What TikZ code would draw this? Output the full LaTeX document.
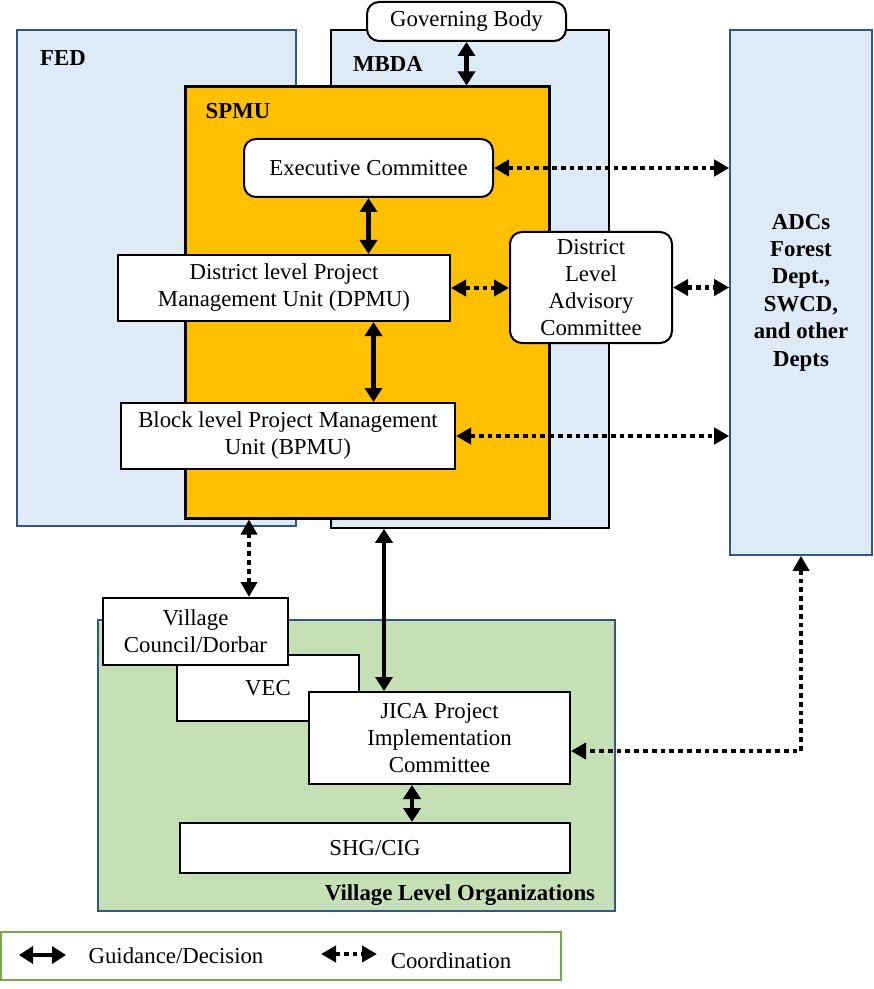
\documentclass[tikz,border=0pt]{standalone}
\usepackage{fontspec}
\setmainfont{Liberation Serif}
\usetikzlibrary{arrows.meta}
\definecolor{paleblue}{HTML}{DEEBF7}
\definecolor{edgeblue}{HTML}{2F5597}
\definecolor{spmuorange}{HTML}{FFC000}
\definecolor{palegreen}{HTML}{C5E0B4}
\definecolor{legendgreen}{HTML}{70AD47}
\tikzset{
  unit/.style={draw, line width=1pt, fill=white, align=center, inner sep=0pt},
  roundunit/.style={unit, rounded corners=6pt},
  body/.style={draw=edgeblue, line width=0.8pt, fill=paleblue, inner sep=0pt},
  guidearrow/.style={line width=2.2pt, {Triangle[length=7pt,width=8.5pt]}-{Triangle[length=7pt,width=8.5pt]}},
  coordarrow/.style={line width=2.4pt, dash pattern=on 2.4pt off 2pt, {Triangle[length=7.5pt,width=8pt]}-{Triangle[length=7.5pt,width=8pt]}},
  tag/.style={font=\fontsize{11.4}{13.7}\selectfont\bfseries}
}
\begin{document}
\begin{tikzpicture}[x=0.5pt, y=-0.5pt, font=\fontsize{11.4}{13.5}\selectfont]
          \useasboundingbox (0,0) rectangle (873,989);

          \node[body, minimum width=139.5pt, minimum height=248pt] (fed) at (156.5,278) {};
          \node[body, draw=black, minimum width=139pt, minimum height=249pt] (mbda) at (470,279) {};
          \node[roundunit, minimum width=99.5pt, minimum height=19.5pt] (gov) at (466.5,21.5) {Governing Body};
          \node[unit, fill=spmuorange, line width=1.5pt, minimum width=182pt, minimum height=215.5pt] (spmu) at (367,302.5) {};
          \node[tag] (fedl) at (63,58) {FED};
          \node[tag] (mbdal) at (388,64) {MBDA};
          \node[tag] (spmul) at (238,111) {SPMU};

          \node[roundunit, minimum width=124.5pt, minimum height=29pt] (ec) at (368.5,168) {Executive Committee};
          \node[unit, minimum width=166pt, minimum height=33pt] (dpmu) at (284,288) {District level Project\\Management Unit (DPMU)};
          \node[roundunit, minimum width=81pt, minimum height=55.5pt] (dlac) at (591,287.5) {District\\Level\\Advisory\\Committee};
          \node[unit, minimum width=167pt, minimum height=33pt] (bpmu) at (288,436) {Block level Project Management\\Unit (BPMU)};
          \node[body, tag, align=center, minimum width=71pt, minimum height=262.5pt] (adc) at (801,292.5) {ADCs\\Forest\\Dept.,\\SWCD,\\and other\\Depts};

          \node[body, fill=palegreen, minimum width=258.5pt, minimum height=145.5pt] (vlo) at (356.5,765.5) {};
          \node[unit, minimum width=91pt, minimum height=33pt] (vec) at (268,688) {VEC};
          \node[unit, minimum width=92.5pt, minimum height=33.5pt] (vc) at (195.5,631.5) {Village\\Council/Dorbar};
          \node[unit, minimum width=130.5pt, minimum height=46pt] (jica) at (439.5,738) {JICA Project\\Implementation\\Committee};
          \node[unit, minimum width=195pt, minimum height=25pt] (shg) at (375,848) {SHG/CIG};
          \node[tag] (vlol) at (460,895) {Village Level Organizations};

          \coordinate (c1) at (249,0);
          \coordinate (c2) at (384,0);
          \coordinate (c3) at (412,0);

          \draw[guidearrow] (gov.south) -- (gov.south |- spmu.north);
          \draw[guidearrow] (ec.south) -- (ec.south |- dpmu.north);
          \draw[guidearrow] ([xshift=2.5pt]ec.south |- dpmu.south) -- ([xshift=2.5pt]ec.south |- bpmu.north);
          \draw[guidearrow] (c2 |- mbda.south) -- (c2 |- jica.north);
          \draw[guidearrow] (c3 |- jica.south) -- (c3 |- shg.north);

          \draw[coordarrow] (ec.east) -- (ec.east -| adc.west);
          \draw[coordarrow] (dpmu.east) -- (dpmu.east -| dlac.west);
          \draw[coordarrow] (dlac.east) -- (dlac.east -| adc.west);
          \draw[coordarrow] (bpmu.east) -- (bpmu.east -| adc.west);
          \draw[coordarrow] (c1 |- spmu.south) -- (c1 |- vc.north);
          \draw[coordarrow] (adc.south) |- ([yshift=-6.5pt]jica.east);

          % legend
          \node[draw=legendgreen, line width=1pt, minimum width=280pt, minimum height=24pt] (key) at (281,956) {};
          \coordinate (k1) at (19,955);
          \coordinate (k2) at (66,955);
          \coordinate (k3) at (321,954);
          \coordinate (k4) at (377,954);
          \draw[guidearrow] (k1) -- (k2);
          \draw[coordarrow] (k3) -- (k4);
          \node (keyg) at (176,956) {Guidance/Decision};
          \node (keyc) at (451,961) {Coordination};
        \end{tikzpicture}
\end{document}
